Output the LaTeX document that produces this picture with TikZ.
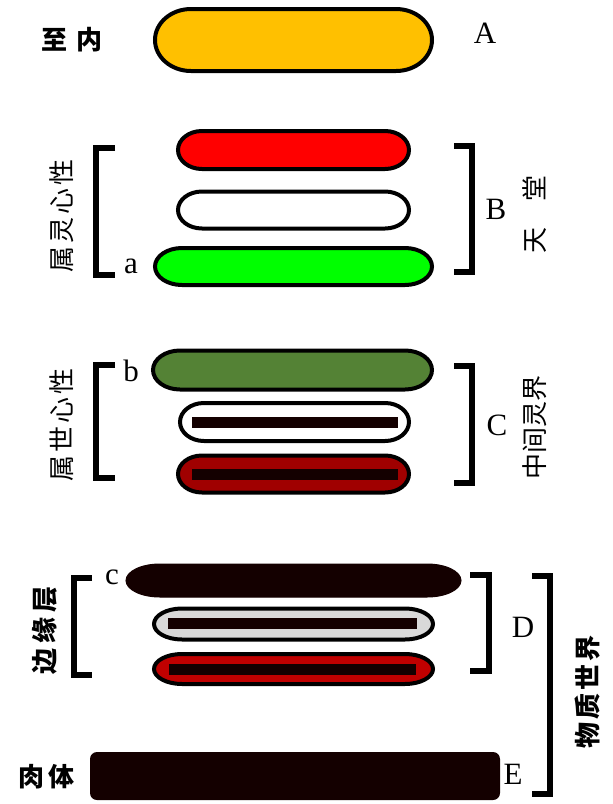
\documentclass[tikz,border=0pt]{standalone}
\usepackage{fontspec}
\setmainfont{Liberation Serif}
\newfontfamily\cjk{Noto Sans CJK SC}
\definecolor{capA}{HTML}{FFC000}
\definecolor{capRed}{HTML}{FF0000}
\definecolor{capGreen}{HTML}{00FF00}
\definecolor{capOlive}{HTML}{548235}
\definecolor{capRedC}{HTML}{A00000}
\definecolor{capRedD}{HTML}{C00000}
\definecolor{capGray}{HTML}{D9D9D9}
\definecolor{nearBlack}{HTML}{140000}
\newcommand{\chgap}[1]{\hspace{#1pt}}
% \capsule{name}{cx}{cy}{width}{height}{end x-radius}{style}
\newcommand{\capsule}[7]{%
  \coordinate (#1) at (#2,#3);
  \begin{scope}[shift={(#2,#3)}]
    \path[#7] ({-#4/2+#6},{-#5/2}) -- ({#4/2-#6},{-#5/2})
      arc[start angle=90, end angle=-90, x radius=#6pt, y radius=#5pt/2]
      -- ({-#4/2+#6},{#5/2})
      arc[start angle=270, end angle=90, x radius=#6pt, y radius=#5pt/2]
      -- cycle;
  \end{scope}}
\begin{document}
\begin{tikzpicture}[x=1pt,y=-1pt,
  capline/.style={draw=black, line width=4pt, fill=#1},
  innerbar/.style={fill=nearBlack, draw=none, inner sep=0pt},
  brk/.style={line width=5.5pt, line cap=butt, line join=miter},
  cjklabel/.style={font=\cjk\bfseries\fontsize{26}{26}\selectfont, inner sep=0pt},
  cjklight/.style={font=\cjk\fontsize{26}{26}\selectfont, inner sep=0pt},
  letter/.style={font=\fontsize{31}{31}\selectfont, inner sep=0pt},
  small/.style={font=\fontsize{31}{31}\selectfont, inner sep=0pt}]
\useasboundingbox (0,0) rectangle (613,804);
\fill[white] (0,0) rectangle (613,804);

% A
\capsule{capA}{293.5}{40}{277}{62}{36}{capline=capA}
\node[cjklabel] (lblA) at (72,40) {至\chgap{9}内};
\node[letter] (A) at (485,33) {A};

% B
\capsule{capR}{293.5}{150}{231}{38}{24}{capline=capRed}
\capsule{capW}{293.5}{210}{231}{37}{24}{capline=white}
\capsule{capG}{293.5}{266.5}{277}{37}{27}{capline=capGreen}
\draw[brk] (115,148) -- (96,148) -- (96,275) -- (115,275);
\draw[brk] (454,146) -- (472,146) -- (472,272) -- (454,272);
\node[small] (a) at (131,266) {a};
\node[letter] (B) at (496,209) {B};
\node[cjklight, rotate=90] (lblB) at (62,216) {属\chgap{3}灵\chgap{3}心\chgap{3}性};
\node[cjklight, rotate=90] (lblHeaven) at (535,214) {天\chgap{26}堂};

% C
\capsule{capO}{292.5}{370}{279}{39}{27}{capline=capOlive}
\capsule{capWC}{294.5}{422}{229}{38}{24}{capline=white}
\node[innerbar, minimum width=206pt, minimum height=11pt] (barWC) at (295,422.5) {};
\capsule{capRC}{293.5}{474}{231}{37}{24}{capline=capRedC}
\node[innerbar, minimum width=206pt, minimum height=11pt] (barRC) at (295,474.5) {};
\draw[brk] (115,365) -- (96,365) -- (96,478) -- (115,478);
\draw[brk] (454,366) -- (472,366) -- (472,483) -- (454,483);
\node[small] (b) at (131,371) {b};
\node[letter] (C) at (497,425) {C};
\node[cjklight, rotate=90] (lblC) at (62,425) {属\chgap{3}世\chgap{3}心\chgap{3}性};
\node[cjklight, rotate=90] (lblMid) at (535,427) {中\chgap{0}间\chgap{0}灵\chgap{0}界};

% D
\capsule{capK}{293.5}{580.5}{335}{33}{34}{fill=nearBlack, draw=nearBlack, line width=1pt}
\capsule{capGy}{293.5}{624}{279}{31}{28}{capline=capGray}
\node[innerbar, minimum width=249pt, minimum height=11pt] (barGy) at (292.5,623.5) {};
\capsule{capRD}{293.5}{669}{279}{30}{28}{capline=capRedD}
\node[innerbar, minimum width=247pt, minimum height=11pt] (barRD) at (292,669) {};
\draw[brk] (92,578) -- (74,578) -- (74,675) -- (92,675);
\draw[brk] (470,575) -- (489,575) -- (489,671) -- (470,671);
\node[small] (c) at (112,577) {c};
\node[letter] (D) at (523,627) {D};
\node[cjklabel, rotate=90] (lblD) at (45,630) {边\chgap{5}缘\chgap{5}层};

% E
\node[fill=nearBlack, draw=none, inner sep=0pt, rounded corners=7pt, minimum width=410pt, minimum height=48pt] (body) at (295,776) {};
\draw[brk] (532,576) -- (550,576) -- (550,794) -- (532,794);
\node[letter] (E) at (513,774) {E};
\node[cjklabel] (lblE) at (47,777) {肉\chgap{4}体};
\node[cjklabel, rotate=90] (lblMat) at (588,692) {物\chgap{3}质\chgap{3}世\chgap{3}界};
\end{tikzpicture}
\end{document}
